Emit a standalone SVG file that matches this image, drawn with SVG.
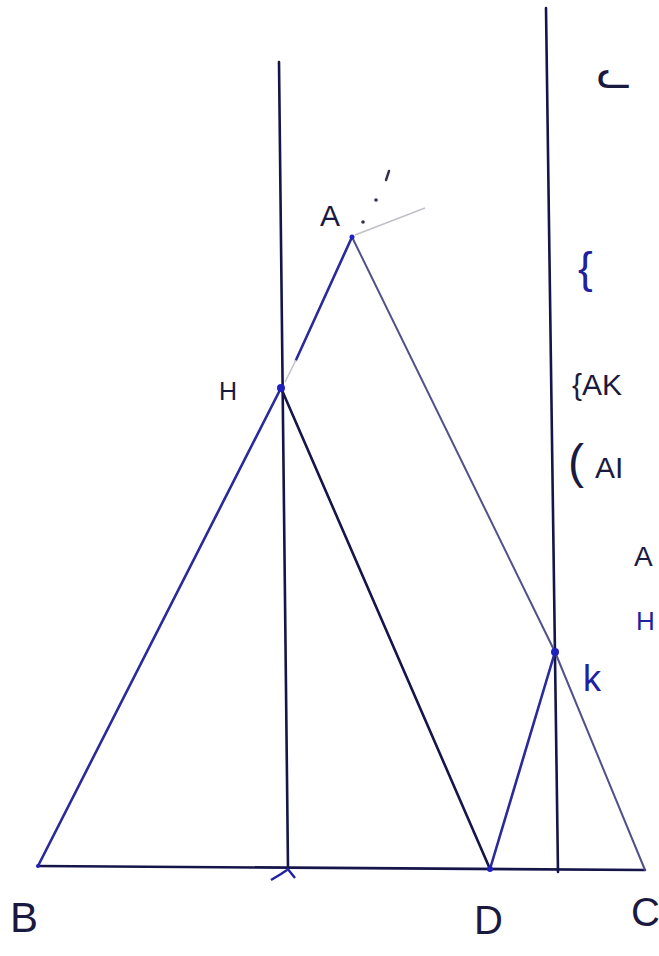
<svg xmlns="http://www.w3.org/2000/svg" width="659" height="956" viewBox="0 0 659 956">
<style>
.ln{stroke:#15154a;stroke-width:2.6;fill:none;stroke-linecap:round}
.bl{stroke:#2a2a9a;stroke-width:2.6;fill:none;stroke-linecap:round}
.gr{stroke:#50508a;stroke-width:2;fill:none;stroke-linecap:round;stroke-linejoin:round}
.t{font-family:"Liberation Sans","DejaVu Sans",sans-serif;fill:#1a1a40}
.tb{font-family:"Liberation Sans","DejaVu Sans",sans-serif;fill:#2020a0}
.pt{fill:#2020c0}
</style>
<rect width="659" height="956" fill="#ffffff"/>
<g id="connectors">
<line class="ln" x1="38" y1="866" x2="645" y2="870"/>
<line class="ln" x1="279" y1="62" x2="288" y2="868"/>
<line class="ln" x1="546" y1="8" x2="558" y2="872"/>
<line class="bl" x1="38" y1="866" x2="281" y2="388"/>
<line class="ln" x1="281" y1="388" x2="490" y2="869"/>
<polyline class="gr" points="352,237 555,652 645,870"/>
<line class="bl" x1="490" y1="869" x2="555" y2="652"/>
<line class="bl" x1="352" y1="237" x2="296" y2="360"/>
<line stroke="#c0c0d0" stroke-width="1.5" x1="296" y1="360" x2="285" y2="382"/>
<line stroke="#c0c0c8" stroke-width="1.5" x1="355" y1="235" x2="425" y2="208"/>
<circle cx="363" cy="222" r="1.8" fill="#30304a"/>
<circle cx="376" cy="200" r="1.8" fill="#30304a"/>
<line stroke="#30304a" stroke-width="2.4" stroke-linecap="round" x1="386" y1="180" x2="389" y2="171"/>
<path d="M271 880 l10 -6 l6 -4 M287 868 l8 10" stroke="#2020a0" stroke-width="2.4" fill="none"/>
</g>
<g id="A"><circle class="pt" cx="352" cy="237" r="2.5"/><text class="t" x="320" y="226" font-size="30">A</text></g>
<g id="H"><circle class="pt" cx="281" cy="388" r="4"/><text class="t" x="219" y="400" font-size="25">H</text></g>
<g id="K"><circle class="pt" cx="555" cy="652" r="4"/><text class="tb" x="583" y="691" font-size="36">k</text></g>
<g id="B"><circle class="pt" cx="38" cy="866" r="2"/><text class="t" x="10" y="932" font-size="42">B</text></g>
<g id="D"><circle class="pt" cx="490" cy="869" r="3"/><text class="t" x="474" y="934" font-size="40">D</text></g>
<g id="C"><text class="t" x="631" y="926" font-size="40">C</text></g>
<g id="notes">
<text class="t" x="597" y="88" font-size="40">ᓚ</text>
<text class="tb" x="578" y="283" font-size="44">{</text>
<text class="t" x="572" y="395" font-size="30">{AK</text>
<text class="t" x="568" y="478" font-size="48">(</text>
<text class="t" x="595" y="478" font-size="30">AI</text>
<text class="t" x="634" y="566" font-size="28">A</text>
<text class="tb" x="636" y="630" font-size="26">H</text>
</g>
</svg>
